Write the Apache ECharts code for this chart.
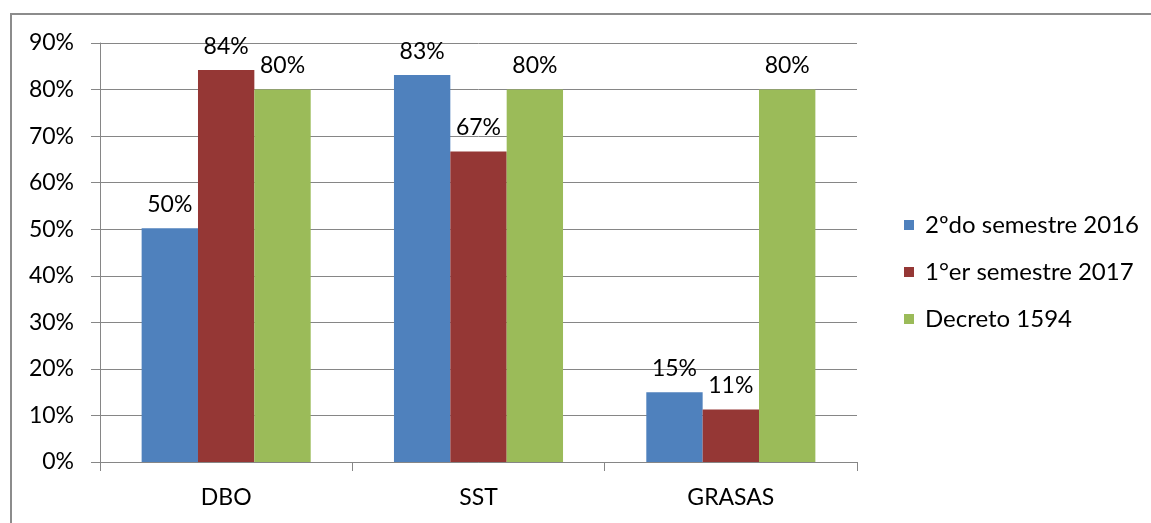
<!DOCTYPE html>
<html>
<head>
<meta charset="utf-8">
<script src="https://cdn.jsdelivr.net/npm/echarts@6/dist/echarts.min.js"></script>
<style>
html,body{margin:0;padding:0;background:#fff;}
#wrap{position:relative;width:1151px;height:523px;overflow:hidden;}
#chart{position:absolute;left:0;top:0;width:1151px;height:523px;}
#frame{position:absolute;left:10px;top:13px;width:1200px;height:600px;border:2px solid #8c8c8c;box-sizing:border-box;pointer-events:none;}
</style>
</head>
<body>
<div id="wrap"><div id="chart"></div><div id="frame"></div></div>
<script>
const categories = ['DBO', 'SST', 'GRASAS'];
const seriesNames = ['2ºdo semestre 2016', '1°er semestre 2017', 'Decreto 1594'];
const sem2016 = [50.2, 83.1, 15.0];
const sem2017 = [84.2, 66.7, 11.3];
const decreto = [80, 80, 80];
const yTicks = [0, 10, 20, 30, 40, 50, 60, 70, 80, 90];
const colors = ['#4F81BD', '#953735', '#9BBB59'];

const font = 'Lato';
const chart = echarts.init(document.getElementById('chart'));
const mk = (name, data, color) => ({
  name: name,
  type: 'bar',
  data: data,
  barGap: '0%',
  barCategoryGap: '33%',
  itemStyle: { color: color },
  label: {
    show: true,
    position: 'top',
    distance: 12,
    fontFamily: font,
    fontSize: 23,
    color: '#000',
    formatter: p => Math.round(p.value) + '%'
  }
});
chart.setOption({
  animation: false,
  grid: { left: 100, right: 294, top: 43, bottom: 61, containLabel: false },
  legend: {
    orient: 'vertical',
    left: 899,
    top: 208,
    itemWidth: 10,
    itemHeight: 10,
    itemGap: 23,
    icon: 'rect',
    textStyle: { fontFamily: font, fontSize: 24, color: '#000', lineHeight: 24, padding: [0, 0, 0, 6] },
    data: seriesNames
  },
  xAxis: {
    type: 'category',
    data: categories,
    axisLine: { lineStyle: { color: '#868686', width: 1 } },
    axisTick: { show: true, length: 9, lineStyle: { color: '#868686' } },
    axisLabel: { fontFamily: font, fontSize: 23, color: '#000', margin: 24 }
  },
  yAxis: {
    type: 'value',
    min: yTicks[0],
    max: yTicks[yTicks.length - 1],
    interval: 10,
    axisLine: { show: true, lineStyle: { color: '#868686', width: 1 } },
    axisTick: { show: true, length: 9, lineStyle: { color: '#868686' } },
    splitLine: { lineStyle: { color: '#868686', width: 1 } },
    axisLabel: { fontFamily: font, fontSize: 23, color: '#000', margin: 26, formatter: v => v + '%' }
  },
  series: [
    mk(seriesNames[0], sem2016, colors[0]),
    mk(seriesNames[1], sem2017, colors[1]),
    mk(seriesNames[2], decreto, colors[2])
  ]
});
</script>
</body>
</html>
